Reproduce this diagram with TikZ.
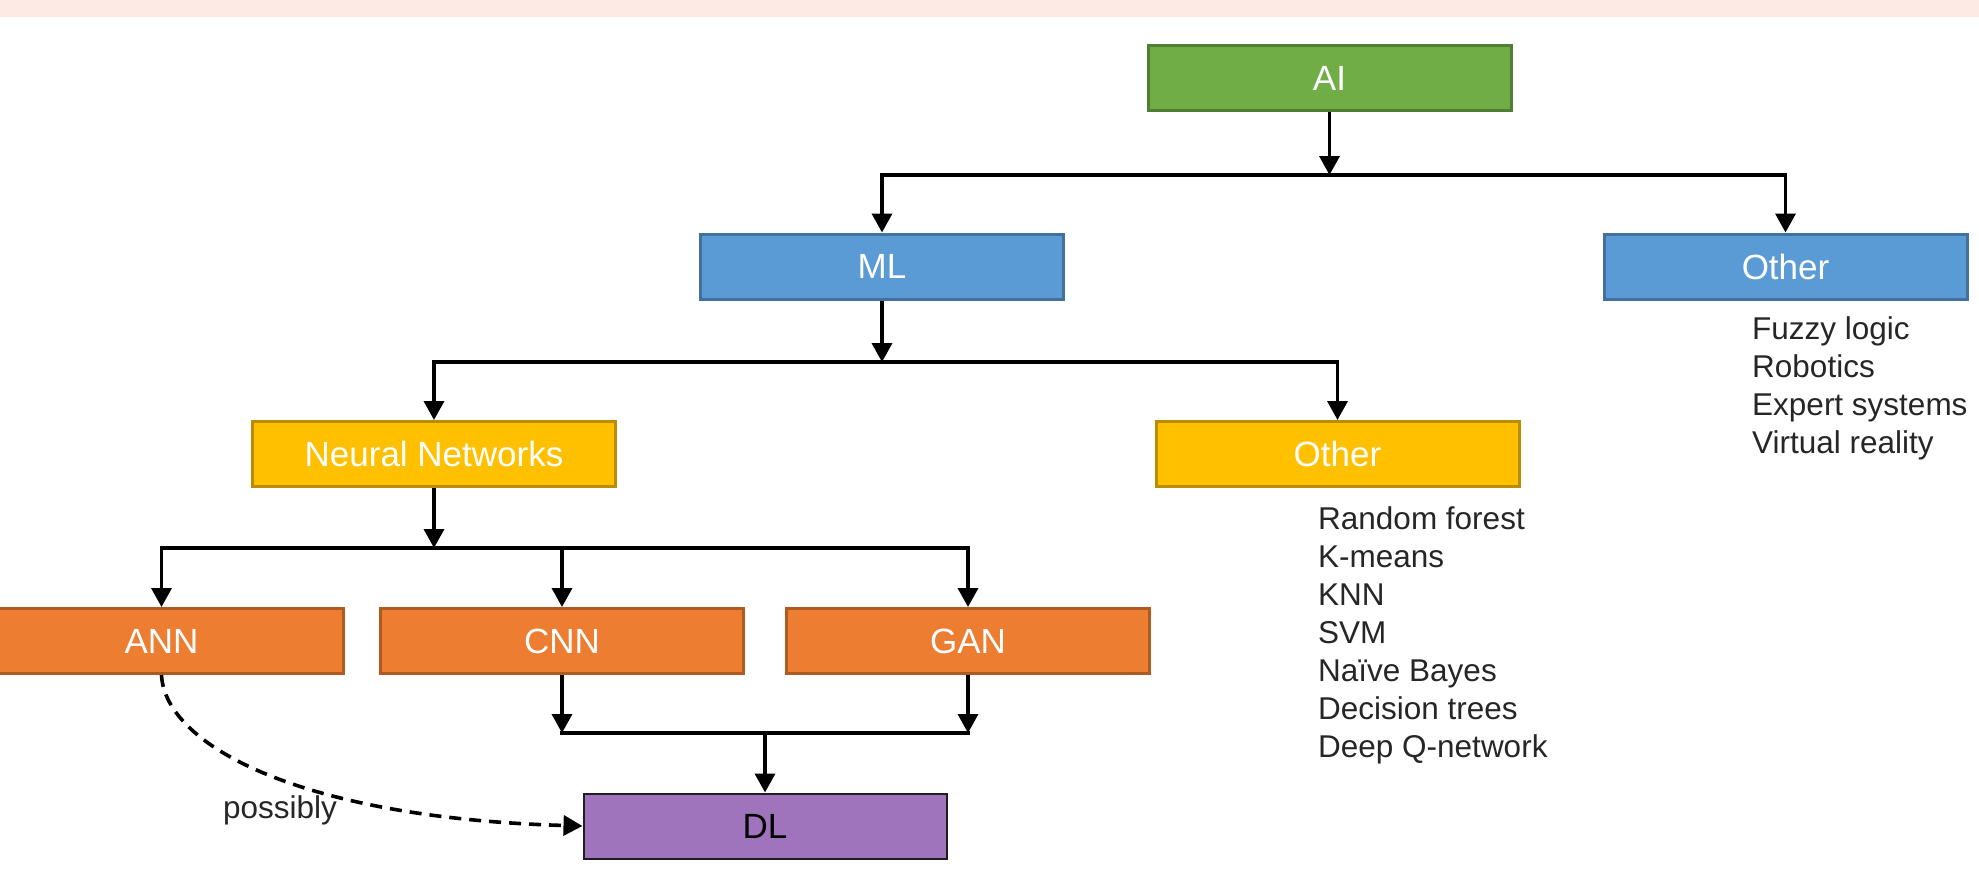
\documentclass[tikz,border=0pt]{standalone}
\usepackage{fontspec}
\setmainfont{Liberation Sans}
\usetikzlibrary{arrows.meta}
\definecolor{bandpink}{RGB}{253,234,228}
\definecolor{gfill}{RGB}{112,173,71}
\definecolor{gdraw}{RGB}{80,126,50}
\definecolor{bfill}{RGB}{91,155,213}
\definecolor{bdraw}{RGB}{65,113,156}
\definecolor{yfill}{RGB}{255,192,0}
\definecolor{ydraw}{RGB}{188,140,0}
\definecolor{ofill}{RGB}{237,125,49}
\definecolor{odraw}{RGB}{174,90,33}
\definecolor{pfill}{RGB}{159,116,188}
\definecolor{pdraw}{RGB}{30,30,30}
\begin{document}
\begin{tikzpicture}[x=1pt,y=-1pt,
  box/.style={draw, line width=3pt, minimum width=363pt, minimum height=65pt, inner sep=0pt,
    font=\fontsize{35}{42}\selectfont, text=white},
  greenbox/.style={box, fill=gfill, draw=gdraw},
  bluebox/.style={box, fill=bfill, draw=bdraw},
  yellowbox/.style={box, fill=yfill, draw=ydraw},
  orangebox/.style={box, fill=ofill, draw=odraw},
  purplebox/.style={box, fill=pfill, draw=pdraw, line width=2pt, text=black},
  plain/.style={line width=3.6pt},
  conn/.style={line width=3.6pt, -{Triangle[length=19pt,width=20pt]}},
  listtext/.style={font=\fontsize{31.5}{38}\selectfont, align=left, inner sep=0pt, text=black!85}]
\useasboundingbox (0,0) rectangle (1979,891);
\fill[bandpink] (0,0) rectangle (1979,17);

\node[greenbox] (ai) at (1329.5,78) {AI};
\node[bluebox] (ml) at (882,266.5) {ML};
\node[bluebox] (oth1) at (1785.5,266.5) {Other};
\node[yellowbox] (nn) at (434,454) {Neural Networks};
\node[yellowbox] (oth2) at (1337.5,454) {Other};
\node[orangebox] (ann) at (161.5,641) {ANN};
\node[orangebox] (cnn) at (562,641) {CNN};
\node[orangebox] (gan) at (968,641) {GAN};
\node[purplebox] (dl) at (765,826) {DL};

% base anchor of a multi-line node = baseline of its last line
\node[listtext, anchor=base west] (list1) at (1752,453) {Fuzzy logic\\Robotics\\Expert systems\\Virtual reality};
\node[listtext, anchor=base west] (list2) at (1318,757) {Random forest\\K-means\\KNN\\SVM\\Naïve Bayes\\Decision trees\\Deep Q-network};

\coordinate (s1) at (1329.5,175);
\coordinate (s2) at (882,362);
\coordinate (s3) at (434,548);
\coordinate (m1) at (765,733);

\draw[conn] (ai.south) -- (s1);
\draw[conn] (s1) -| (ml.north);
\draw[conn] (s1) -| (oth1.north);

\draw[conn] (ml.south) -- (s2);
\draw[conn] (s2) -| (nn.north);
\draw[conn] (s2) -| (oth2.north);

\draw[conn] (nn.south) -- (s3);
\draw[conn] (s3) -| (ann.north);
\draw[conn] (s3) -| (cnn.north);
\draw[conn] (s3) -| (gan.north);

\draw[conn] (cnn.south) -- (cnn.south |- m1);
\draw[conn] (gan.south) -- (gan.south |- m1);
\draw[plain, line cap=rect] (cnn.south |- m1) -- (gan.south |- m1);
\draw[conn] (m1) -- (dl.north);

\draw[conn, dash pattern=on 12pt off 8pt] (ann.south) .. controls (165,745) and (300,818) .. (dl.west);
\node[listtext, anchor=base west] (poss) at (223,818) {possibly};
\end{tikzpicture}
\end{document}
